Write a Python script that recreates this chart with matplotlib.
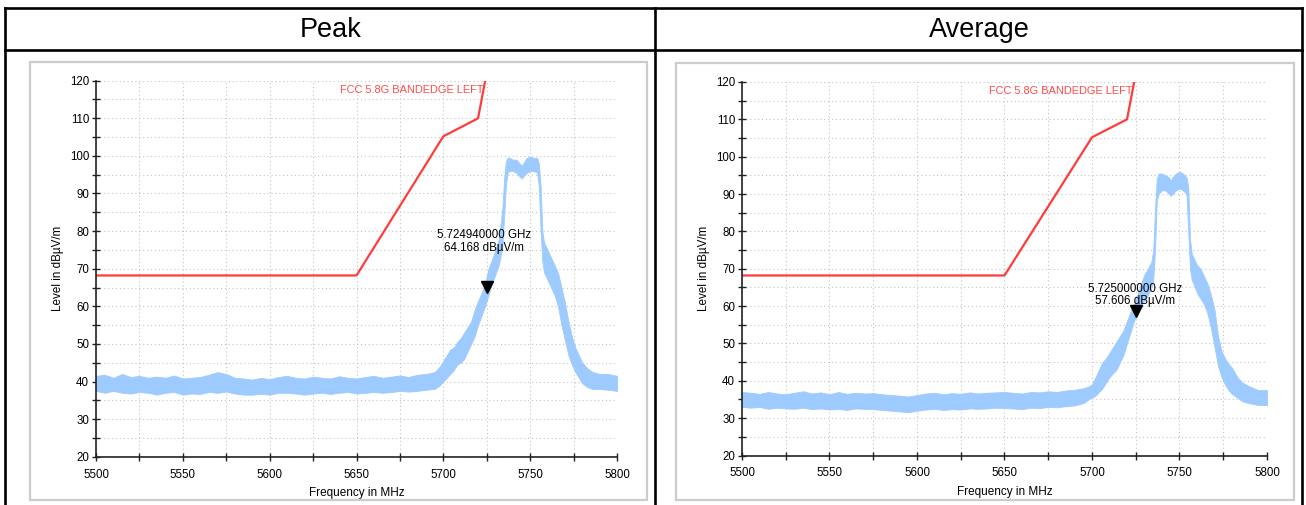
import matplotlib.pyplot as plt
from matplotlib.patches import Rectangle
from matplotlib.lines import Line2D
from matplotlib.ticker import MultipleLocator
from matplotlib.transforms import ScaledTranslation

plt.rcParams['font.family'] = ['Liberation Sans', 'DejaVu Sans']

# limit line (FCC 5.8G band edge, left side)
limit_f = [5500, 5650, 5700, 5720, 5725]
limit_db = [68.2, 68.2, 105.2, 110.0, 122.2]

# peak trace, read as lower / upper envelope of the noisy sweep
peak_f = [5500, 5505, 5510, 5515, 5520, 5525, 5530, 5535, 5540, 5545, 5550, 5555,
          5560, 5565, 5570, 5575, 5580, 5585, 5590, 5595, 5600, 5605, 5610, 5615,
          5620, 5625, 5630, 5635, 5640, 5645, 5650, 5655, 5660, 5665, 5670, 5675,
          5680, 5685, 5690, 5695, 5698, 5700, 5702, 5704, 5706, 5708, 5710, 5712,
          5714, 5716, 5718, 5720, 5722, 5724, 5726, 5728, 5730, 5732, 5734, 5735,
          5736, 5737, 5738, 5740, 5742, 5744, 5745, 5746, 5748, 5750, 5752, 5754,
          5755, 5756, 5757, 5758, 5760, 5762, 5764, 5766, 5768, 5770, 5772, 5774,
          5776, 5778, 5780, 5783, 5786, 5790, 5795, 5800]
peak_lo = [37.5, 37.0, 37.5, 37.0, 36.8, 37.2, 37.0, 36.5, 37.0, 37.2, 36.5, 36.8,
           36.7, 37.2, 37.0, 37.3, 36.8, 36.5, 36.5, 36.7, 36.5, 37.0, 37.0, 36.8,
           36.5, 36.8, 37.0, 36.7, 37.0, 37.2, 36.8, 37.0, 37.2, 37.0, 37.2, 37.5,
           37.3, 37.5, 37.8, 38.0, 39.0, 40.0, 41.0, 42.0, 43.0, 44.5, 45.0, 46.0,
           48.0, 50.0, 52.0, 55.0, 57.5, 60.0, 63.0, 66.0, 68.5, 71.0, 76.0, 84.0,
           92.0, 95.5, 96.0, 96.0, 95.5, 94.5, 94.0, 94.5, 95.5, 96.0, 96.0, 95.5,
           92.0, 80.0, 72.0, 69.0, 67.0, 65.0, 63.0, 60.0, 55.0, 51.0, 47.0, 44.5,
           42.5, 41.0, 39.5, 38.5, 38.0, 38.0, 37.8, 37.5]
peak_hi = [41.5, 41.8, 41.0, 42.0, 41.2, 41.5, 41.0, 41.3, 41.0, 41.6, 40.8, 41.0,
           41.2, 41.8, 42.5, 42.0, 41.0, 40.8, 40.5, 41.0, 40.6, 41.2, 41.5, 41.0,
           40.8, 41.3, 41.0, 40.8, 41.4, 41.0, 40.8, 41.2, 41.5, 41.0, 41.3, 41.6,
           41.2, 41.8, 42.0, 42.5, 44.0, 45.5, 47.0, 48.5, 49.0, 50.5, 51.5, 53.0,
           54.5, 56.0, 59.0, 61.5, 63.5, 66.0, 70.0, 72.5, 75.0, 78.0, 86.0, 94.0,
           98.5, 99.5, 99.5, 99.0, 99.0, 98.0, 97.5, 98.0, 99.5, 99.8, 99.5, 99.5,
           98.0, 92.0, 80.0, 77.0, 75.0, 73.0, 71.0, 69.0, 65.0, 61.0, 56.0, 52.0,
           49.0, 47.0, 45.0, 43.5, 42.5, 42.0, 42.0, 41.5]

# average trace
avg_f = peak_f
avg_lo = [33.0, 32.8, 33.0, 32.5, 32.8, 32.6, 32.5, 32.8, 32.4, 32.6, 32.3, 32.5,
          32.2, 32.6, 32.5, 32.4, 32.2, 32.0, 31.8, 31.6, 32.0, 32.3, 32.5, 32.2,
          32.4, 32.3, 32.6, 32.5, 32.6, 32.8, 32.7, 32.6, 32.4, 32.8, 32.7, 33.0,
          32.9, 33.2, 33.4, 34.0, 35.0, 35.5, 36.0, 37.0, 38.0, 39.5, 41.0, 42.0,
          43.0, 45.0, 47.0, 50.0, 53.0, 56.0, 58.0, 60.0, 61.5, 63.0, 65.0, 67.0,
          75.0, 88.0, 90.0, 91.0, 91.0, 90.0, 89.5, 90.0, 91.0, 91.5, 91.0, 90.0,
          80.0, 70.0, 67.0, 66.0, 63.5, 62.0, 60.5, 58.0, 54.0, 49.0, 44.0, 41.0,
          39.0, 37.5, 36.5, 35.5, 34.5, 34.0, 33.5, 33.5]
avg_hi = [37.0, 36.8, 36.5, 37.0, 36.6, 36.4, 36.8, 37.2, 36.6, 36.9, 36.4, 37.0,
          36.5, 36.8, 36.6, 36.7, 36.4, 36.2, 36.0, 35.8, 36.2, 36.6, 36.8, 36.4,
          36.7, 36.5, 36.9, 36.6, 36.8, 36.9, 37.0, 36.8, 36.6, 37.0, 36.9, 37.2,
          37.0, 37.4, 37.6, 38.0, 38.5, 39.0, 41.0, 43.0, 45.0, 46.0, 47.5, 49.0,
          50.5, 52.0, 53.5, 56.0, 58.5, 60.5, 63.0, 66.0, 68.5, 70.0, 72.0, 75.0,
          86.0, 94.0, 95.5, 95.5, 95.0, 94.5, 93.5, 94.5, 95.5, 96.0, 95.5, 94.5,
          92.0, 78.0, 74.0, 73.0, 71.0, 70.0, 68.0, 66.0, 63.0, 59.0, 52.0, 48.0,
          46.0, 44.5, 43.5, 41.0, 39.5, 38.5, 37.5, 37.5]

panels = [
    dict(title='Peak', f=peak_f, lo=peak_lo, hi=peak_hi,
         mk_f=5724.94, mk_db=64.168, mk_text='5.724940000 GHz\n64.168 dBµV/m',
         axpos=[96, 80.7, 617, 456.7], frame=[30, 62, 647, 500],
         ylab_x=63.5, txt_off=(-3, 49), head_x=331),
    dict(title='Average', f=avg_f, lo=avg_lo, hi=avg_hi,
         mk_f=5725.0, mk_db=57.606, mk_text='5.725000000 GHz\n57.606 dBµV/m',
         axpos=[742, 82, 1267, 455.5], frame=[676, 63, 1294, 500],
         ylab_x=710, txt_off=(-1, 20), head_x=979),
]

W, H = 1306, 505
fig = plt.figure(figsize=(W / 100, H / 100), dpi=100)
fig.patch.set_facecolor('white')

# table lines
lw_tab = 1.9
for y in (8, 50):
    fig.add_artist(Line2D([5 / W, 1302 / W], [1 - y / H, 1 - y / H], color='black', lw=lw_tab))
for x in (5, 655, 1302):
    fig.add_artist(Line2D([x / W, x / W], [0, 1 - 8 / H], color='black', lw=lw_tab))

for p in panels:
    fx0, fy0, fx1, fy1 = p['frame']
    fig.add_artist(Rectangle((fx0 / W, 1 - fy1 / H), (fx1 - fx0) / W, (fy1 - fy0) / H,
                             fill=False, edgecolor='#cccccc', lw=1.6))
    fig.text(p['head_x'] / W, 1 - 30 / H, p['title'], ha='center', va='center', fontsize=19.5)

    x0, y0, x1, y1 = p['axpos']
    ax = fig.add_axes([x0 / W, 1 - y1 / H, (x1 - x0) / W, (y1 - y0) / H])
    ax.set_xlim(5500, 5800)
    ax.set_ylim(20, 120)
    ax.xaxis.set_major_locator(MultipleLocator(50))
    ax.xaxis.set_minor_locator(MultipleLocator(25))
    ax.yaxis.set_major_locator(MultipleLocator(10))
    ax.yaxis.set_minor_locator(MultipleLocator(5))
    ax.grid(which='both', color='#c4c4c4', linestyle=(0, (1, 2.5)), lw=0.8)
    ax.set_axisbelow(True)
    for s in ('top', 'right'):
        ax.spines[s].set_visible(False)
    for s in ('left', 'bottom'):
        ax.spines[s].set_color('#222222')
        ax.spines[s].set_linewidth(1.2)
    ax.tick_params(which='both', direction='inout', length=6, width=1.0, color='#222222')
    ax.tick_params(axis='y', pad=2, labelsize=8.3)
    ax.tick_params(axis='x', pad=5.5, labelsize=8.3)

    ax.fill_between(p['f'], p['lo'], p['hi'], color='#9dcbff', lw=0.6, edgecolor='#9dcbff')
    ax.plot(limit_f, limit_db, color='#ff3c3c', lw=1.6)
    ax.text(5723, 117.5, 'FCC 5.8G BANDEDGE LEFT', color='#ff4a4a', fontsize=7.9,
            ha='right', va='center')

    ax.plot([p['mk_f']], [p['mk_db']], marker='v', color='black', markersize=8,
            transform=ax.transData + ScaledTranslation(0, 4 / 100, fig.dpi_scale_trans))
    ax.annotate(p['mk_text'], (p['mk_f'], p['mk_db']), xytext=p['txt_off'],
                textcoords='offset pixels', ha='center', va='center', fontsize=8.3,
                linespacing=1.1)

    ax.set_xlabel('Frequency in MHz', fontsize=8.5, labelpad=4.5)
    ax.set_ylabel('Level in dBµV/m', fontsize=8.4)
    ax.yaxis.set_label_coords((p['ylab_x'] - x0) / (x1 - x0), 0.5)

fig.savefig('out.png', dpi=100)
